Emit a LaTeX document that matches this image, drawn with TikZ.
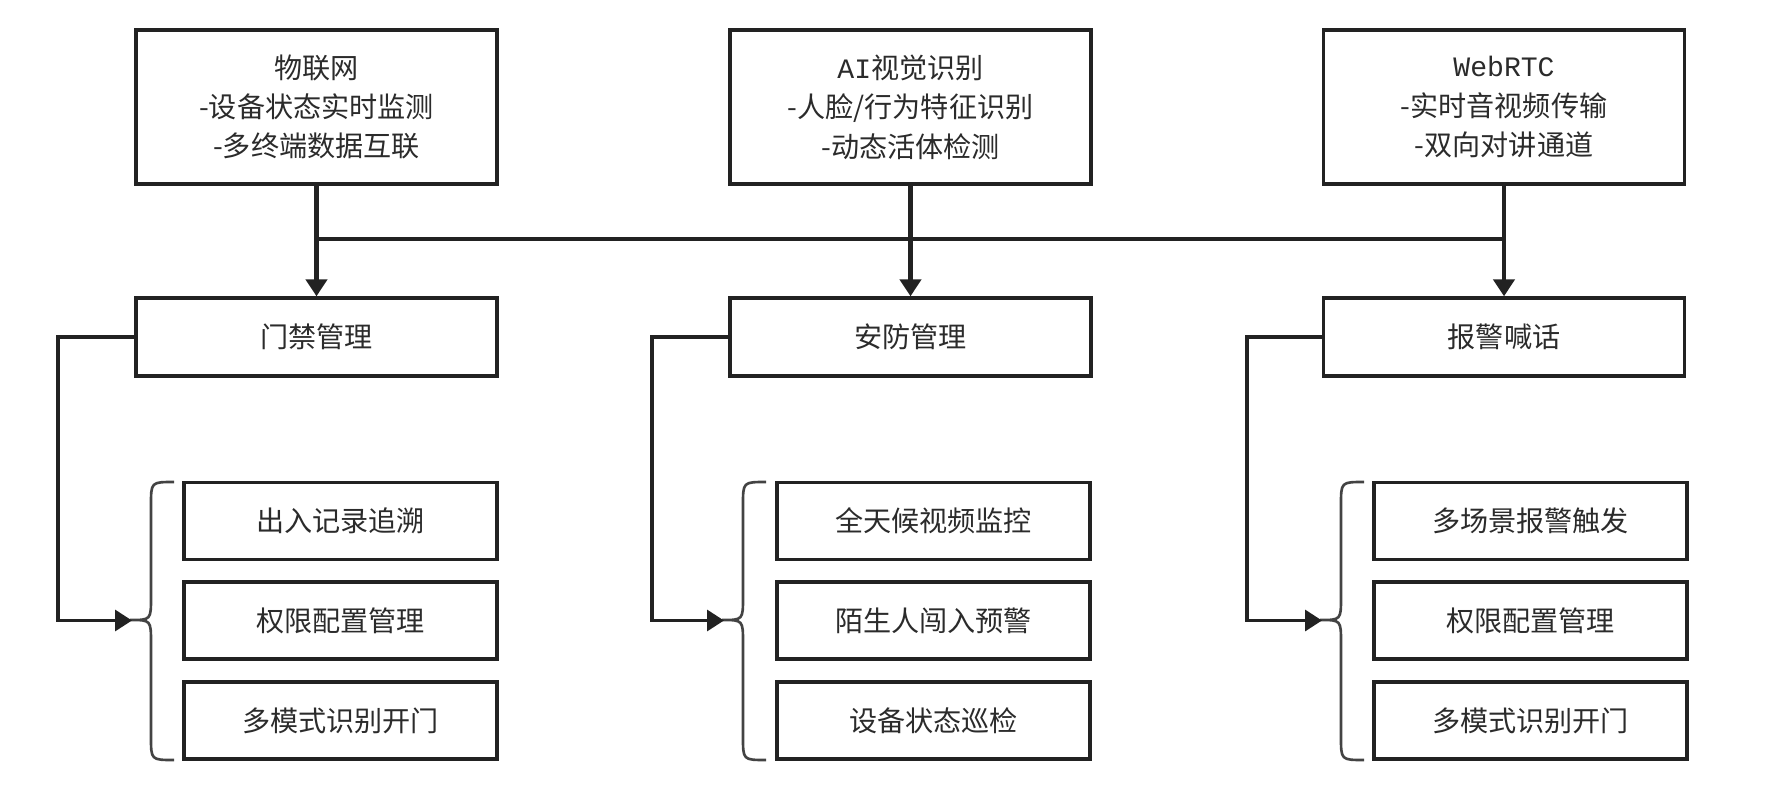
\documentclass[tikz,border=0pt]{standalone}
\usepackage{fontspec}
\setmainfont{Noto Sans CJK SC}
\newfontfamily\latinmono{Liberation Mono}
\usetikzlibrary{arrows.meta}
\definecolor{ink}{HTML}{222222}
\definecolor{txt}{HTML}{2B2B2B}
\newcommand{\drawbrace}[1]{%
  \draw[bracestyle] (#1-10,482) .. controls (#1-33,482) .. (#1-33,505) -- (#1-33,597)
    .. controls (#1-33,620) .. (#1-54,620) .. controls (#1-33,620) .. (#1-33,643)
    -- (#1-33,737) .. controls (#1-33,760) .. (#1-10,760);}
\begin{document}
\begin{tikzpicture}[x=0.02cm,y=-0.02cm,
  box/.style={draw=ink, line width=1.9pt, fill=white, align=center,
    font=\fontsize{16}{22.4}\selectfont, text=txt, inner sep=0pt},
  topbox/.style={box, minimum width=7.22cm, minimum height=3.08cm},
  midbox/.style={box, minimum width=7.22cm, minimum height=1.56cm},
  subbox/.style={box, minimum width=6.26cm, minimum height=1.54cm},
  conn/.style={draw=ink, line width=1.9pt},
  arr/.style={conn, -{Triangle[length=0.34cm,width=0.42cm]}},
  downarr/.style={arr, line width=2.5pt},
  bracestyle/.style={draw=ink!85, line width=1.5pt}]
\useasboundingbox (0,0) rectangle (1772,791);

% top boxes
\node[topbox] (topA) at (316.5,107) {物联网\\-设备状态实时监测\\-多终端数据互联};
\node[topbox] (topB) at (910.5,107) {{\latinmono AI}视觉识别\\-人脸/行为特征识别\\-动态活体检测};
\node[topbox] (topC) at (1504,107) {{\latinmono WebRTC}\\-实时音视频传输\\-双向对讲通道};

% middle boxes
\node[midbox] (midA) at (316.5,337) {门禁管理};
\node[midbox] (midB) at (910.5,337) {安防管理};
\node[midbox] (midC) at (1504,337) {报警喊话};

% sub boxes
\node[subbox] (subA1) at (340.5,521) {出入记录追溯};
\node[subbox] (subA2) at (340.5,620.5) {权限配置管理};
\node[subbox] (subA3) at (340.5,720.5) {多模式识别开门};
\node[subbox] (subB1) at (933.5,521) {全天候视频监控};
\node[subbox] (subB2) at (933.5,620.5) {陌生人闯入预警};
\node[subbox] (subB3) at (933.5,720.5) {设备状态巡检};
\node[subbox] (subC1) at (1530.5,521) {多场景报警触发};
\node[subbox] (subC2) at (1530.5,620.5) {权限配置管理};
\node[subbox] (subC3) at (1530.5,720.5) {多模式识别开门};

% bus
\coordinate (busA) at (316.5,239);
\coordinate (busC) at (1504,239);
\draw[conn] (busA) -- (busC);
\draw[downarr] (topA.south) -- (midA.north);
\draw[downarr] (topB.south) -- (midB.north);
\draw[downarr] (topC.south) -- (midC.north);

% braces
\drawbrace{184}
\drawbrace{776}
\drawbrace{1374}

\coordinate (tipA) at (132,620.5);
\coordinate (tipB) at (724,620.5);
\coordinate (tipC) at (1322,620.5);
\coordinate (cornA) at (58,620.5);
\coordinate (cornB) at (652,620.5);
\coordinate (cornC) at (1247,620.5);
\draw[arr] (midA.west) -| (cornA) -- (tipA);
\draw[arr] (midB.west) -| (cornB) -- (tipB);
\draw[arr] (midC.west) -| (cornC) -- (tipC);
\end{tikzpicture}
\end{document}
